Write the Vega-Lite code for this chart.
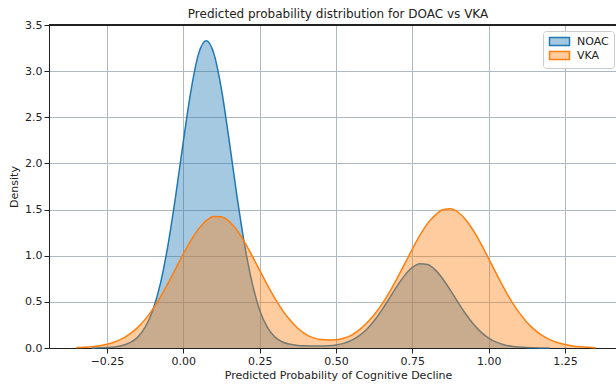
{
  "$schema": "https://vega.github.io/schema/vega-lite/v6.json",
  "width": 567,
  "height": 323,
  "autosize": "none",
  "padding": {"left": 49, "top": 25, "right": 0, "bottom": 39},
  "config": {"view": {"stroke": null}, "font": "DejaVu Sans"},
  "title": {"text": "Predicted probability distribution for DOAC vs VKA", "fontSize": 12, "fontWeight": "normal", "color": "#222222", "anchor": "middle", "dx": 5.5, "dy": 17, "baseline": "alphabetic", "offset": 6},
  "data": {"values": [
    {"g":"NOAC","x":-0.3,"y":0.0},{"g":"NOAC","x":-0.275,"y":0.002},{"g":"NOAC","x":-0.25,"y":0.005},{"g":"NOAC","x":-0.225,"y":0.012},{"g":"NOAC","x":-0.2,"y":0.028},{"g":"NOAC","x":-0.175,"y":0.058},{"g":"NOAC","x":-0.15,"y":0.115},{"g":"NOAC","x":-0.125,"y":0.225},{"g":"NOAC","x":-0.1,"y":0.41},{"g":"NOAC","x":-0.075,"y":0.7},{"g":"NOAC","x":-0.05,"y":1.12},{"g":"NOAC","x":-0.025,"y":1.65},{"g":"NOAC","x":0.0,"y":2.24},{"g":"NOAC","x":0.025,"y":2.79},{"g":"NOAC","x":0.05,"y":3.19},{"g":"NOAC","x":0.075,"y":3.33},{"g":"NOAC","x":0.1,"y":3.19},{"g":"NOAC","x":0.125,"y":2.8},{"g":"NOAC","x":0.15,"y":2.25},{"g":"NOAC","x":0.175,"y":1.66},{"g":"NOAC","x":0.2,"y":1.13},{"g":"NOAC","x":0.225,"y":0.71},{"g":"NOAC","x":0.25,"y":0.41},{"g":"NOAC","x":0.275,"y":0.225},{"g":"NOAC","x":0.3,"y":0.118},{"g":"NOAC","x":0.325,"y":0.065},{"g":"NOAC","x":0.35,"y":0.04},{"g":"NOAC","x":0.375,"y":0.028},{"g":"NOAC","x":0.4,"y":0.024},{"g":"NOAC","x":0.425,"y":0.022},{"g":"NOAC","x":0.45,"y":0.022},{"g":"NOAC","x":0.475,"y":0.025},{"g":"NOAC","x":0.5,"y":0.033},{"g":"NOAC","x":0.525,"y":0.05},{"g":"NOAC","x":0.55,"y":0.082},{"g":"NOAC","x":0.575,"y":0.131},{"g":"NOAC","x":0.6,"y":0.201},{"g":"NOAC","x":0.625,"y":0.296},{"g":"NOAC","x":0.65,"y":0.411},{"g":"NOAC","x":0.675,"y":0.54},{"g":"NOAC","x":0.7,"y":0.671},{"g":"NOAC","x":0.725,"y":0.787},{"g":"NOAC","x":0.75,"y":0.873},{"g":"NOAC","x":0.775,"y":0.914},{"g":"NOAC","x":0.8,"y":0.905},{"g":"NOAC","x":0.825,"y":0.847},{"g":"NOAC","x":0.85,"y":0.748},{"g":"NOAC","x":0.875,"y":0.625},{"g":"NOAC","x":0.9,"y":0.493},{"g":"NOAC","x":0.925,"y":0.368},{"g":"NOAC","x":0.95,"y":0.259},{"g":"NOAC","x":0.975,"y":0.172},{"g":"NOAC","x":1.0,"y":0.108},{"g":"NOAC","x":1.025,"y":0.064},{"g":"NOAC","x":1.05,"y":0.036},{"g":"NOAC","x":1.075,"y":0.019},{"g":"NOAC","x":1.1,"y":0.01},{"g":"NOAC","x":1.125,"y":0.005},{"g":"NOAC","x":1.15,"y":0.002},{"g":"NOAC","x":1.175,"y":0.001},{"g":"NOAC","x":1.2,"y":0.0},
    {"g":"VKA","x":-0.35,"y":0.004},{"g":"VKA","x":-0.325,"y":0.008},{"g":"VKA","x":-0.3,"y":0.014},{"g":"VKA","x":-0.275,"y":0.024},{"g":"VKA","x":-0.25,"y":0.04},{"g":"VKA","x":-0.225,"y":0.065},{"g":"VKA","x":-0.2,"y":0.101},{"g":"VKA","x":-0.175,"y":0.152},{"g":"VKA","x":-0.15,"y":0.221},{"g":"VKA","x":-0.125,"y":0.31},{"g":"VKA","x":-0.1,"y":0.422},{"g":"VKA","x":-0.075,"y":0.553},{"g":"VKA","x":-0.05,"y":0.702},{"g":"VKA","x":-0.025,"y":0.861},{"g":"VKA","x":0.0,"y":1.02},{"g":"VKA","x":0.025,"y":1.167},{"g":"VKA","x":0.05,"y":1.291},{"g":"VKA","x":0.075,"y":1.38},{"g":"VKA","x":0.1,"y":1.425},{"g":"VKA","x":0.125,"y":1.422},{"g":"VKA","x":0.15,"y":1.372},{"g":"VKA","x":0.175,"y":1.278},{"g":"VKA","x":0.2,"y":1.151},{"g":"VKA","x":0.225,"y":1.001},{"g":"VKA","x":0.25,"y":0.842},{"g":"VKA","x":0.275,"y":0.684},{"g":"VKA","x":0.3,"y":0.537},{"g":"VKA","x":0.325,"y":0.408},{"g":"VKA","x":0.35,"y":0.3},{"g":"VKA","x":0.375,"y":0.214},{"g":"VKA","x":0.4,"y":0.151},{"g":"VKA","x":0.425,"y":0.112},{"g":"VKA","x":0.45,"y":0.092},{"g":"VKA","x":0.475,"y":0.087},{"g":"VKA","x":0.5,"y":0.09},{"g":"VKA","x":0.525,"y":0.105},{"g":"VKA","x":0.55,"y":0.137},{"g":"VKA","x":0.575,"y":0.193},{"g":"VKA","x":0.6,"y":0.268},{"g":"VKA","x":0.625,"y":0.36},{"g":"VKA","x":0.65,"y":0.472},{"g":"VKA","x":0.675,"y":0.605},{"g":"VKA","x":0.7,"y":0.755},{"g":"VKA","x":0.725,"y":0.912},{"g":"VKA","x":0.75,"y":1.072},{"g":"VKA","x":0.775,"y":1.222},{"g":"VKA","x":0.8,"y":1.35},{"g":"VKA","x":0.825,"y":1.44},{"g":"VKA","x":0.85,"y":1.498},{"g":"VKA","x":0.875,"y":1.508},{"g":"VKA","x":0.9,"y":1.471},{"g":"VKA","x":0.925,"y":1.39},{"g":"VKA","x":0.95,"y":1.272},{"g":"VKA","x":0.975,"y":1.128},{"g":"VKA","x":1.0,"y":0.968},{"g":"VKA","x":1.025,"y":0.805},{"g":"VKA","x":1.05,"y":0.649},{"g":"VKA","x":1.075,"y":0.506},{"g":"VKA","x":1.1,"y":0.383},{"g":"VKA","x":1.125,"y":0.28},{"g":"VKA","x":1.15,"y":0.199},{"g":"VKA","x":1.175,"y":0.136},{"g":"VKA","x":1.2,"y":0.091},{"g":"VKA","x":1.225,"y":0.059},{"g":"VKA","x":1.25,"y":0.037},{"g":"VKA","x":1.275,"y":0.022},{"g":"VKA","x":1.3,"y":0.013},{"g":"VKA","x":1.325,"y":0.007},{"g":"VKA","x":1.35,"y":0.004}
  ]},
  "encoding": {
    "x": {"field": "x", "type": "quantitative", "scale": {"domain": [-0.44, 1.417], "nice": false, "zero": false},
      "axis": {"values": [-0.25, 0, 0.25, 0.5, 0.75, 1, 1.25], "format": ".2f", "title": "Predicted Probability of Cognitive Decline",
        "titleFontSize": 11, "titleFontWeight": "normal", "titleColor": "#222222", "titleX": 289, "titleY": 30, "titleBaseline": "alphabetic", "titleAnchor": null, "titleAlign": "center",
        "labelFontSize": 11, "labelColor": "#222222", "labelPadding": 2, "tickSize": 5, "tickColor": "#222222", "domainColor": "#222222",
        "grid": true, "gridColor": "#b0b8c0", "gridWidth": 1, "labelFlush": false}},
    "y": {"field": "y", "type": "quantitative", "scale": {"domain": [0, 3.5], "nice": false},
      "axis": {"values": [0, 0.5, 1, 1.5, 2, 2.5, 3, 3.5], "format": ".1f", "title": "Density",
        "titleFontSize": 11, "titleFontWeight": "normal", "titleColor": "#222222", "titleX": -35, "titleY": 161.5, "titleAngle": 270, "titleAlign": "center", "titleBaseline": "middle", "titleAnchor": null,
        "labelFontSize": 11, "labelColor": "#222222", "labelPadding": 2, "tickSize": 5, "tickColor": "#222222", "domainColor": "#222222",
        "grid": true, "gridColor": "#b0b8c0", "gridWidth": 1, "labelFlush": false}}
  },
  "layer": [
    {"transform": [{"filter": "datum.g === 'NOAC'"}],
     "mark": {"type": "area", "fillOpacity": 0.4, "interpolate": "monotone"},
     "encoding": {"color": {"field": "g", "type": "nominal", "scale": {"domain": ["NOAC", "VKA"], "range": ["#1f77b4", "#ff7f0e"]},
       "legend": {"title": null, "orient": "none", "legendX": 494, "legendY": 6, "padding": 5, "fillColor": "rgba(255,255,255,0.85)", "strokeColor": "#cccccc", "cornerRadius": 3,
         "symbolType": "M-2.5,-1H2.5V1H-2.5Z", "symbolSize": 64, "symbolOffset": 6, "labelOffset": 12, "labelFontSize": 11, "labelColor": "#222222", "rowPadding": -1,
         "labelExpr": "datum.label + '\u00a0\u00a0\u00a0\u00a0\u00a0\u00a0\u00a0\u00a0'",
         "encode": {"symbols": {"update": {"fill": {"scale": "color", "field": "value"}, "fillOpacity": {"value": 0.4}, "stroke": {"scale": "color", "field": "value"}, "strokeWidth": {"value": 1.5}, "opacity": {"value": 1}}}}}}}},
    {"transform": [{"filter": "datum.g === 'NOAC'"}],
     "mark": {"type": "line", "strokeWidth": 1.5, "interpolate": "monotone"},
     "encoding": {"color": {"field": "g", "type": "nominal"}}},
    {"transform": [{"filter": "datum.g === 'VKA'"}],
     "mark": {"type": "area", "fillOpacity": 0.4, "interpolate": "monotone"},
     "encoding": {"color": {"field": "g", "type": "nominal"}}},
    {"transform": [{"filter": "datum.g === 'VKA'"}],
     "mark": {"type": "line", "strokeWidth": 1.5, "interpolate": "monotone"},
     "encoding": {"color": {"field": "g", "type": "nominal"}}},
    {"mark": {"type": "rule", "color": "#222222", "strokeWidth": 1},
     "encoding": {"y": {"datum": 3.5}, "x": null, "color": null}}
  ]
}
